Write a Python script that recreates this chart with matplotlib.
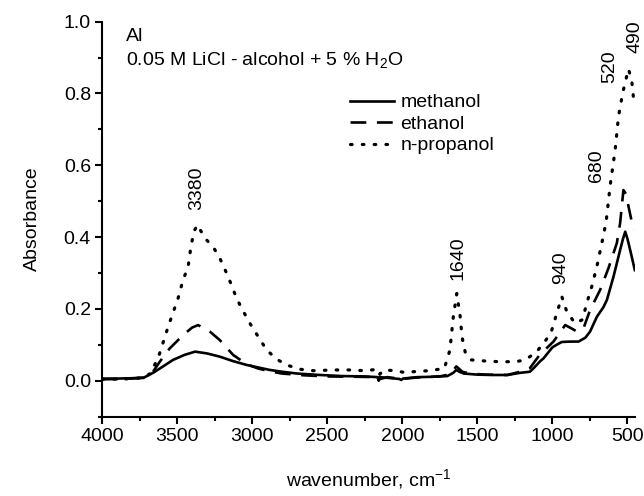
import matplotlib
matplotlib.use("Agg")
import matplotlib.pyplot as plt
from matplotlib.ticker import MultipleLocator

plt.rcParams['font.family'] = ['Liberation Sans', 'DejaVu Sans']
plt.rcParams['mathtext.fontset'] = 'custom'
plt.rcParams['mathtext.rm'] = 'Liberation Sans'

# ---- data ----
meth_wn = [4000, 3900, 3800, 3720, 3660, 3600, 3527, 3450, 3380, 3300, 3215, 3130, 3037, 2960, 2882,
           2800, 2700, 2549, 2400, 2250, 2165, 2157, 2150, 2100, 2020, 2007, 1995, 1900, 1800, 1700,
           1660, 1640, 1620, 1590, 1500, 1400, 1300, 1215, 1150, 1125, 1080, 1060, 1000, 960, 937,
           880, 826, 780, 749, 704, 660, 637, 593, 549, 530, 515, 500, 482, 451]
meth_abs = [0.006, 0.006, 0.007, 0.009, 0.022, 0.038, 0.058, 0.072, 0.081, 0.076, 0.067, 0.055, 0.044,
            0.037, 0.030, 0.025, 0.020, 0.016, 0.013, 0.012, 0.010, 0.000, 0.010, 0.008, 0.005, 0.002,
            0.006, 0.010, 0.011, 0.013, 0.022, 0.030, 0.025, 0.020, 0.017, 0.016, 0.016, 0.022, 0.025,
            0.035, 0.055, 0.062, 0.093, 0.103, 0.108, 0.109, 0.109, 0.120, 0.137, 0.178, 0.205, 0.225,
            0.290, 0.364, 0.395, 0.415, 0.395, 0.364, 0.308]

eth_wn = [4000, 3850, 3720, 3660, 3615, 3549, 3460, 3400, 3360, 3282, 3215, 3127, 3037, 2960, 2880,
          2800, 2650, 2500, 2300, 2160, 2155, 2100, 2005, 1900, 1750, 1680, 1640, 1600, 1550, 1450,
          1300, 1215, 1150, 1085, 993, 940, 915, 870, 837, 793, 749, 682, 627, 571, 549, 527, 510,
          493, 460]
eth_abs = [0.004, 0.005, 0.008, 0.025, 0.053, 0.090, 0.127, 0.148, 0.155, 0.137, 0.113, 0.072, 0.046,
           0.034, 0.026, 0.020, 0.015, 0.012, 0.011, 0.010, 0.004, 0.010, 0.005, 0.009, 0.012, 0.018,
           0.040, 0.025, 0.020, 0.017, 0.016, 0.025, 0.035, 0.072, 0.109, 0.140, 0.155, 0.145, 0.137,
           0.146, 0.197, 0.253, 0.313, 0.383, 0.439, 0.531, 0.520, 0.485, 0.420]

prop_wn = [4000, 3850, 3720, 3680, 3627, 3560, 3493, 3460, 3427, 3411, 3389, 3364, 3315, 3260, 3215,
           3175, 3138, 3104, 3064, 3015, 2960, 2904, 2837, 2771, 2682, 2593, 2450, 2355, 2250, 2160,
           2150, 2123, 2050, 1984, 1900, 1822, 1720, 1683, 1660, 1637, 1614, 1602, 1579, 1540, 1450,
           1359, 1243, 1182, 1150, 1104, 1040, 1004, 971, 937, 904, 849, 800, 771, 738, 704, 664, 642,
           615, 582, 560, 540, 527, 510, 493, 471, 460]
prop_abs = [0.004, 0.005, 0.008, 0.020, 0.062, 0.150, 0.230, 0.281, 0.316, 0.364, 0.415, 0.434, 0.397,
            0.373, 0.341, 0.304, 0.267, 0.230, 0.197, 0.160, 0.123, 0.086, 0.060, 0.044, 0.032, 0.028,
            0.030, 0.030, 0.028, 0.032, 0.018, 0.030, 0.028, 0.023, 0.026, 0.028, 0.034, 0.085, 0.178,
            0.243, 0.178, 0.122, 0.076, 0.058, 0.055, 0.053, 0.053, 0.058, 0.067, 0.081, 0.115, 0.141,
            0.188, 0.234, 0.192, 0.160, 0.170, 0.216, 0.262, 0.318, 0.397, 0.443, 0.545, 0.643, 0.735,
            0.782, 0.810, 0.840, 0.868, 0.833, 0.788]

series_labels = ["methanol", "ethanol", "n-propanol"]

peak_labels = ["3380", "1640", "940", "680", "520", "490"]
peak_x = [3370, 1628, 945, 706, 617, 448]
peak_y = [0.475, 0.28, 0.27, 0.553, 0.829, 0.912]

# ---- figure ----
fig = plt.figure(figsize=(6.44, 4.96), dpi=100)
ax = fig.add_axes([0.1584, 0.160, 0.8276, 0.7964])

fs = 14
ax.plot(meth_wn, meth_abs, color='black', lw=1.9, ls='-', label=series_labels[0])
ax.plot(eth_wn, eth_abs, color='black', lw=1.9, ls=(0, (6, 4)), label=series_labels[1])
ax.plot(prop_wn, prop_abs, color='black', lw=2.3, ls=(0, (0.5, 3.2)),
        dash_capstyle='round', label=series_labels[2])

ax.set_xlim(4000, 450)
ax.set_ylim(-0.1, 1.0)
ax.xaxis.set_major_locator(MultipleLocator(500))
ax.xaxis.set_minor_locator(MultipleLocator(250))
ax.yaxis.set_major_locator(MultipleLocator(0.2))
ax.yaxis.set_minor_locator(MultipleLocator(0.1))
ax.set_yticks([0.0, 0.2, 0.4, 0.6, 0.8, 1.0])
ax.set_yticklabels(["0.0", "0.2", "0.4", "0.6", "0.8", "1.0"])

for s in ['top', 'right']:
    ax.spines[s].set_visible(False)
for s in ['left', 'bottom']:
    ax.spines[s].set_linewidth(1.5)
ax.tick_params(which='major', direction='out', length=5, width=1.5, labelsize=fs, pad=3)
ax.tick_params(which='minor', direction='out', length=3, width=1.5)

ax.set_xlabel("wavenumber, cm$^{-1}$", fontsize=fs, labelpad=16)
ax.set_ylabel("Absorbance", fontsize=fs, labelpad=16)

for t, x, y in zip(peak_labels, peak_x, peak_y):
    ax.text(x, y, t, rotation=90, ha='center', va='bottom', fontsize=fs, clip_on=False)

ax.text(0.045, 0.963, "Al", transform=ax.transAxes, fontsize=fs, va='center', ha='left')
ax.text(0.045, 0.900, "0.05 M LiCl - alcohol + 5 % H$_2$O", transform=ax.transAxes,
        fontsize=fs, va='center', ha='left')

leg = ax.legend(loc='upper left', bbox_to_anchor=(340 / 644, 1 - 84 / 496),
                bbox_transform=fig.transFigure, frameon=False, fontsize=fs,
                handlelength=2.3, handletextpad=0.3, labelspacing=0.2, borderpad=0)

fig.savefig("out.png", dpi=100)
